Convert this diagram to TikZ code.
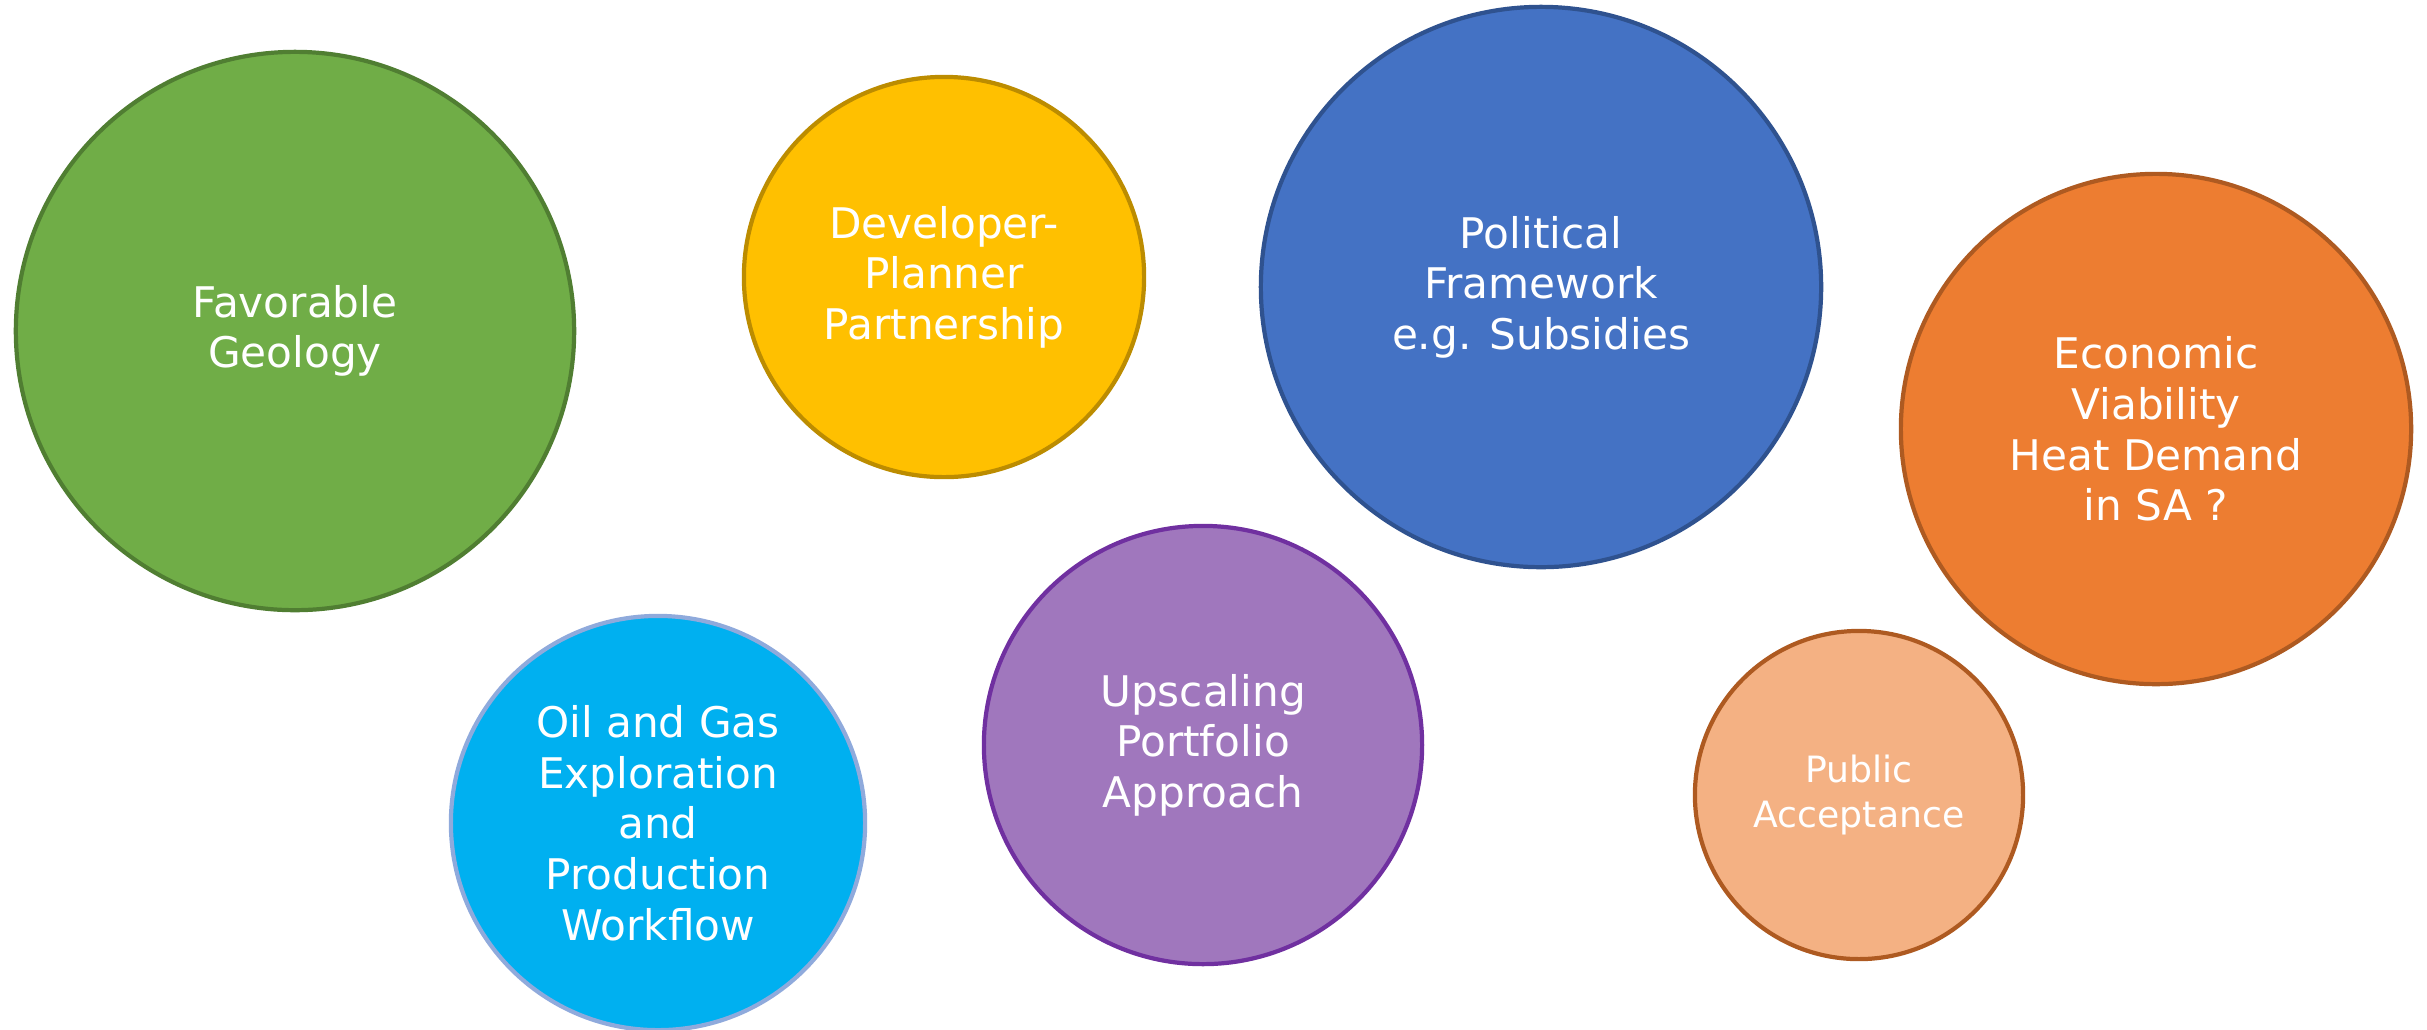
\documentclass[tikz,border=0pt]{standalone}
\usepackage{fontspec}
\setmainfont{DejaVu Sans}

\definecolor{geogreen}{HTML}{70AD47}
\definecolor{geogreenline}{HTML}{507E32}
\definecolor{devyellow}{HTML}{FFC000}
\definecolor{devyellowline}{HTML}{BC8C00}
\definecolor{polblue}{HTML}{4472C4}
\definecolor{polblueline}{HTML}{2F528F}
\definecolor{ecoorange}{HTML}{ED7D31}
\definecolor{ecoorangeline}{HTML}{AE5A21}
\definecolor{oilcyan}{HTML}{00B0F0}
\definecolor{oilcyanline}{HTML}{8FAADC}
\definecolor{upviolet}{HTML}{A077BD}
\definecolor{upvioletline}{HTML}{7030A0}
\definecolor{pubpeach}{HTML}{F4B183}

\begin{document}
\begin{tikzpicture}[x=0.01cm,y=-0.01cm,
  bubble/.style 2 args={circle,fill=#1,draw=#2,line width=1.2pt,inner sep=0pt,
    text=white,align=center,font=\fontsize{12}{14.4}\selectfont}]
\useasboundingbox (0,0) rectangle (2427,1029);

\node[bubble={geogreen}{geogreenline},minimum size=5.58cm](geology) at (295,331) {Favorable\\Geology};
\node[bubble={devyellow}{devyellowline},minimum size=4.0cm](partner) at (944,277) {Developer-\\Planner\\Partnership};
\node[bubble={polblue}{polblueline},minimum size=5.6cm](politics) at (1541,287) {Political\\Framework\\e.g. Subsidies};
\node[bubble={ecoorange}{ecoorangeline},minimum size=5.1cm](economy) at (2156,429) {Economic\\Viability\\Heat Demand\\in SA ?};
\node[bubble={oilcyan}{oilcyanline},minimum size=4.14cm](oilgas) at (658,823) {Oil and Gas\\Exploration\\and\\Production\\Workflow};
\node[bubble={upviolet}{upvioletline},minimum size=4.38cm](upscale) at (1203,745) {Upscaling\\Portfolio\\Approach};
\node[bubble={pubpeach}{ecoorangeline},minimum size=3.28cm,font=\fontsize{10.3}{12.6}\selectfont](public) at (1859,795) {Public\\Acceptance};
\end{tikzpicture}
\end{document}
